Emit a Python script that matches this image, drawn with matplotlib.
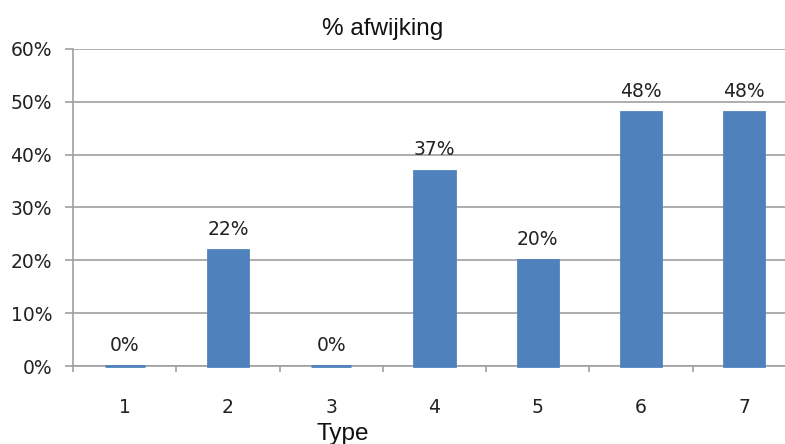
import matplotlib.pyplot as plt
from matplotlib.ticker import PercentFormatter

# afwijking per type, in procent
types = ["1", "2", "3", "4", "5", "6", "7"]
afwijking = [0, 22, 0, 37, 20, 48, 48]
y_ticks = [0, 10, 20, 30, 40, 50, 60]

fig = plt.figure(figsize=(7.85, 4.44), dpi=100)
ax = fig.add_axes([73 / 785, 1 - 366 / 444, 723 / 785, 317 / 444])

x = list(range(len(types)))
ax.bar(x, afwijking, width=0.39, color="#4F81BD", edgecolor="#4F81BD",
       linewidth=2.0, zorder=3, clip_on=False)

for xi, v in zip(x, afwijking):
    ax.annotate(f"{v}%", (xi, v), xytext=(0, 8), textcoords="offset points",
                ha="center", va="bottom", fontsize=13.5, color="#222222",
                family="DejaVu Sans")

ax.set_xlim(-0.5, len(types) - 0.5)
ax.set_ylim(0, 60)
ax.set_yticks(y_ticks)
ax.yaxis.set_major_formatter(PercentFormatter(decimals=0))
ax.set_xticks([i + 0.5 for i in range(-1, len(types))], minor=False)
ax.set_xticklabels([])
ax.set_xticks(x, minor=True)
ax.set_xticklabels(types, minor=True)

ax.grid(axis="y", color="#a0a0a0", linewidth=1.2, zorder=0)
for s in ["top", "right"]:
    ax.spines[s].set_visible(False)
ax.spines["left"].set_color("#a0a0a0")
ax.spines["bottom"].set_color("#a0a0a0")
ax.spines["left"].set_linewidth(1.2)
ax.spines["bottom"].set_linewidth(1.2)

ax.tick_params(axis="y", length=6, width=1.2, color="#a0a0a0", pad=9,
               labelsize=13.5, labelcolor="#222222")
ax.tick_params(axis="x", which="major", length=4, width=1.2, color="#a0a0a0")
ax.tick_params(axis="x", which="minor", length=0, pad=23,
               labelsize=13.5, labelcolor="#222222")

ax.set_title("% afwijking", fontsize=17.5, family="Liberation Sans",
             color="#111111", x=(383 - 73) / 723, pad=10)
ax.set_xlabel("Type", fontsize=17.5, family="Liberation Sans",
              color="#111111")
ax.xaxis.set_label_coords((343 - 73) / 723, -0.18)

fig.savefig("out.png", dpi=100)
